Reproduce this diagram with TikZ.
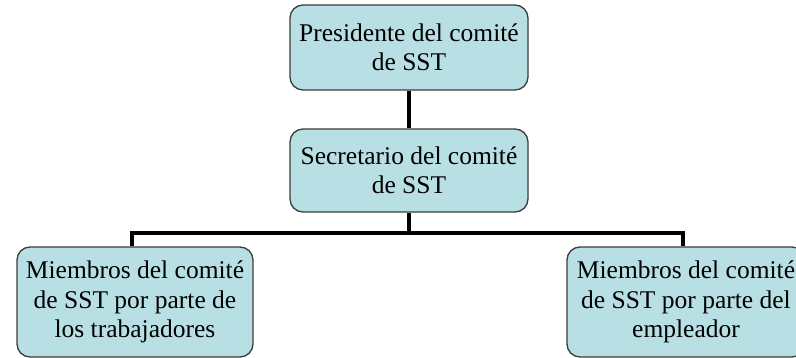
\documentclass[tikz,border=0pt]{standalone}
\usepackage{fontspec}
\setmainfont{Liberation Serif}
\definecolor{boxfill}{RGB}{184,224,228}
\definecolor{boxline}{RGB}{60,60,60}
\tikzset{
  orgbox/.style={draw=boxline, line width=1.3pt, fill=boxfill, rounded corners=13pt,
    align=center, inner sep=0pt, font=\fontsize{25.5}{29.5}\selectfont},
  link/.style={line width=3.6pt, black}
}
\begin{document}
\begin{tikzpicture}[x=1pt,y=-1pt]
\useasboundingbox (0,0) rectangle (796,358);
\clip (0,0) rectangle (796,358);
\node[orgbox, minimum width=238pt, minimum height=85pt] (pres) at (409,47.5) {Presidente del comité\\de SST};
\node[orgbox, minimum width=238pt, minimum height=83pt] (sec) at (409,170.5) {Secretario del comité\\de SST};
\node[orgbox, minimum width=236pt, minimum height=110pt] (trab) at (135,302) {Miembros del comité\\de SST por parte de\\los trabajadores};
\node[orgbox, minimum width=238pt, minimum height=110pt] (emp) at (686,302) {Miembros del comité\\de SST por parte del\\empleador};
\coordinate (bar) at (409,233);
\draw[link] (pres.south) -- (sec.north);
\draw[link] (sec.south) -- (bar);
\draw[link] (trab.north -| 132,0) |- (bar) -| (emp.north -| 683,0);
\end{tikzpicture}
\end{document}
